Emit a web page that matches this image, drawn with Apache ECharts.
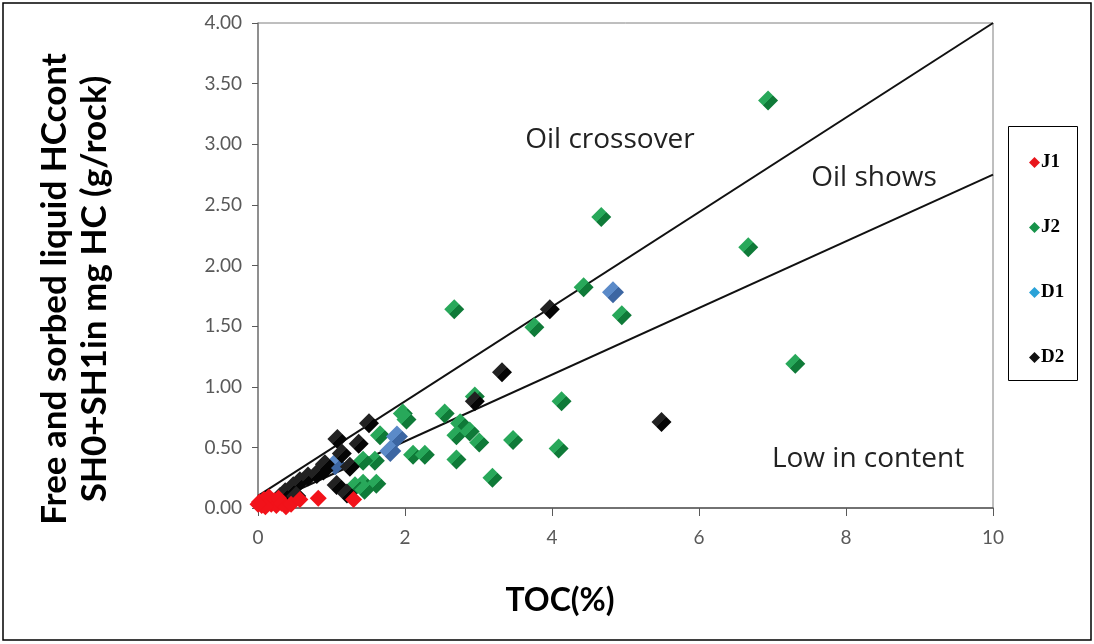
<!DOCTYPE html>
<html>
<head>
<meta charset="utf-8">
<script src="https://cdn.jsdelivr.net/npm/echarts@6/dist/echarts.min.js"></script>
<style>
  html, body { margin: 0; padding: 0; background: #fff; }
  #chart { width: 1094px; height: 644px; }
</style>
</head>
<body>
<div id="chart"></div>
<script>
// TOC (%) vs free + sorbed liquid hydrocarbons, by formation
const seriesNames = ['J1', 'J2', 'D1', 'D2'];

const j1Points = [
  [0.02, 0.05], [0.05, 0.02], [0.08, 0.07], [0.12, 0.04], [0.15, 0.09],
  [0.18, 0.03], [0.22, 0.06], [0.25, 0.02], [0.28, 0.08], [0.32, 0.04],
  [0.38, 0.01], [0.10, 0.01], [0.45, 0.03], [0.00, 0.03], [0.57, 0.07],
  [0.82, 0.08], [1.30, 0.07]
];

const j2Points = [
  [6.94, 3.36], [4.67, 2.40], [6.67, 2.15], [4.43, 1.82], [4.95, 1.59],
  [2.67, 1.64], [3.76, 1.49], [7.31, 1.19], [4.13, 0.88], [4.09, 0.49],
  [3.47, 0.56], [3.19, 0.25], [2.95, 0.92], [1.97, 0.78], [2.02, 0.73],
  [2.54, 0.78], [2.75, 0.70], [2.70, 0.60], [2.88, 0.63], [3.01, 0.54],
  [2.11, 0.44], [2.27, 0.44], [2.70, 0.40], [1.66, 0.60], [1.59, 0.39],
  [1.43, 0.39], [1.43, 0.20], [1.61, 0.20], [1.32, 0.18], [1.45, 0.15]
];

const d1Points = [
  [4.83, 1.78], [1.89, 0.59], [1.80, 0.47], [1.05, 0.36]
];

const d2Points = [
  [3.97, 1.64], [3.32, 1.12], [2.95, 0.88], [5.49, 0.71], [1.51, 0.70],
  [1.08, 0.57], [1.37, 0.53], [1.14, 0.45], [1.25, 0.34], [0.89, 0.31],
  [1.07, 0.19], [1.21, 0.12], [0.37, 0.13], [0.48, 0.18], [0.57, 0.22],
  [0.68, 0.26], [0.80, 0.28], [0.91, 0.36], [0.30, 0.09], [0.52, 0.10]
];

// Boundary lines between the interpretation fields
const crossoverLine = [[0, 0.1], [10, 4.0]];
const showsLine = [[0, 0], [10, 2.75]];

const xTicks = [0, 2, 4, 6, 8, 10];
const yTickStep = 0.5;

const zoneLabels = ['Oil crossover', 'Oil shows', 'Low in content'];

function facet(light, dark) {
  return new echarts.graphic.LinearGradient(0, 0, 1, 1, [
    { offset: 0, color: light },
    { offset: 0.5, color: light },
    { offset: 0.5, color: dark },
    { offset: 1, color: dark }
  ]);
}

const markerStyle = {
  J1: { size: [17, 17], color: '#f2121a' },
  J2: { size: [20, 20], color: facet('#28a85a', '#0f7a38') },
  D1: { size: [22, 22], color: facet('#5b8ac8', '#3c66a2') },
  D2: { size: [20, 20], color: facet('#222222', '#050505') }
};

const legendIconColors = { J1: '#e8161c', J2: '#17934a', D1: '#2aa2d8', D2: '#111111' };

const chart = echarts.init(document.getElementById('chart'), null, { renderer: 'canvas' });

function scatter(name, data) {
  return {
    name: name,
    type: 'scatter',
    data: data,
    symbol: 'diamond',
    symbolSize: markerStyle[name].size,
    itemStyle: { color: markerStyle[name].color, opacity: 1 },
    z: 3
  };
}

function boundary(data) {
  return {
    type: 'line',
    data: data,
    symbol: 'none',
    silent: true,
    lineStyle: { color: '#111', width: 2 },
    z: 2
  };
}

const axisFont = { fontFamily: 'Lato', fontSize: 19, color: '#595959' };
const zoneFont = { fontFamily: 'Open Sans', fontSize: 28, fill: '#222',
  align: 'center', verticalAlign: 'middle' };

chart.setOption({
  animation: false,
  backgroundColor: '#fff',
  grid: {
    left: 258, right: 101, top: 23, bottom: 136,
    show: true, borderColor: '#7f7f7f', borderWidth: 1, backgroundColor: 'transparent'
  },
  xAxis: {
    type: 'value', min: 0, max: 10, interval: 2,
    axisLine: { show: true, onZero: false, lineStyle: { color: '#595959', width: 1.5 } },
    axisTick: { show: true, length: 8, lineStyle: { color: '#595959' },
      customValues: xTicks },
    axisLabel: Object.assign({ margin: 20, customValues: xTicks }, axisFont),
    splitLine: { show: false }
  },
  yAxis: {
    type: 'value', min: 0, max: 4, interval: yTickStep,
    axisLine: { show: true, lineStyle: { color: '#7f7f7f', width: 1.5 } },
    axisTick: { show: true, length: 6, lineStyle: { color: '#595959' } },
    axisLabel: Object.assign({ margin: 16, formatter: v => v.toFixed(2) }, axisFont),
    splitLine: { show: false }
  },
  legend: {
    orient: 'vertical',
    left: 1024, top: 148,
    itemWidth: 11, itemHeight: 11,
    itemGap: 46,
    icon: 'diamond',
    textStyle: { fontFamily: 'Liberation Serif', fontWeight: 'bold', fontSize: 19,
      color: '#000', lineHeight: 19, padding: [0, 0, 0, -4] },
    data: seriesNames.map(n => ({ name: n, itemStyle: { color: legendIconColors[n] } }))
  },
  series: [
    boundary(crossoverLine),
    boundary(showsLine),
    scatter('J2', j2Points),
    scatter('D1', d1Points),
    scatter('D2', d2Points),
    scatter('J1', j1Points)
  ],
  graphic: [
    { type: 'rect', shape: { x: 3, y: 3, width: 1088, height: 637 },
      style: { fill: 'none', stroke: '#000', lineWidth: 1.5 }, silent: true },
    { type: 'rect', shape: { x: 1008.5, y: 126.5, width: 69, height: 254 },
      style: { fill: 'none', stroke: '#000', lineWidth: 1 }, silent: true },
    { type: 'text', x: 75, y: 289, rotation: Math.PI / 2,
      style: { text: 'Free and sorbed liquid HCcont\nSH0+SH1in mg HC (g/rock)',
        fontFamily: 'Lato', fontWeight: 'bold', fontSize: 35, lineHeight: 40,
        fill: '#000', align: 'center', verticalAlign: 'middle' } },
    { type: 'text', x: 560, y: 601,
      style: { text: 'TOC(%)', fontFamily: 'Lato', fontWeight: 'bold', fontSize: 32,
        fill: '#000', align: 'center', verticalAlign: 'middle' } },
    { type: 'text', x: 610, y: 140, style: Object.assign({ text: zoneLabels[0] }, zoneFont) },
    { type: 'text', x: 874, y: 178, style: Object.assign({ text: zoneLabels[1] }, zoneFont) },
    { type: 'text', x: 868, y: 459, style: Object.assign({ text: zoneLabels[2] }, zoneFont) }
  ]
});
</script>
</body>
</html>
